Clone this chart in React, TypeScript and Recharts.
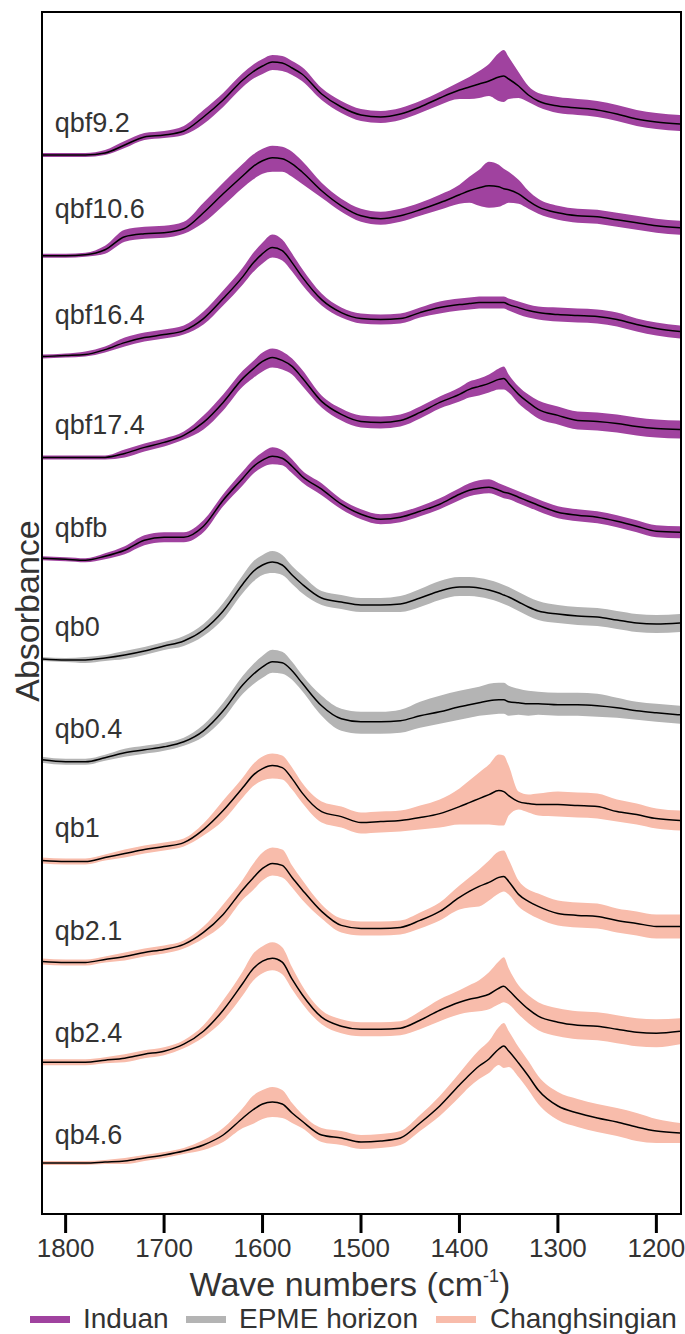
import { ComposedChart, Area, Line, XAxis, YAxis, ReferenceDot } from "recharts";

// wavenumber grid (cm-1), left edge of frame to right edge
const WAVENUMBERS = [
  1824, 1800, 1780, 1760, 1740, 1720, 1700, 1680, 1660, 1640,
  1620, 1610, 1600, 1590, 1580, 1570, 1560, 1540, 1520, 1500,
  1480, 1460, 1440, 1420, 1400, 1390, 1380, 1370, 1360, 1355,
  1350, 1340, 1330, 1320, 1300, 1280, 1260, 1240, 1220, 1200,
  1176,
];

const X_TICKS = [1800, 1700, 1600, 1500, 1400, 1300, 1200];

// absorbance (a.u.) above each sample's baseline: mean, spread above, spread below
const meanQbf92 = [0, 0, 0, 2, 10, 18, 20, 24, 38, 55, 75, 83, 89, 93, 92, 87, 81, 61, 48, 40, 38, 41, 48, 57, 65, 68, 71, 74, 78, 79, 76, 69, 60, 54, 49, 47, 45, 41, 36, 33, 31];
const upQbf92 = [2, 2, 2, 3, 4, 4, 4, 5, 7, 7, 7, 7, 7, 7, 7, 7, 7, 6, 6, 6, 6, 6, 6, 6, 8, 10, 13, 17, 24, 26, 22, 14, 9, 8, 9, 9, 9, 9, 9, 9, 9];
const lowQbf92 = [2, 2, 2, 2, 3, 3, 3, 4, 7, 7, 7, 7, 8, 8, 8, 7, 7, 6, 6, 6, 6, 6, 6, 7, 9, 12, 14, 15, 24, 26, 20, 12, 7, 6, 7, 7, 7, 7, 7, 7, 7];

const meanQbf106 = [0, 0, 1, 6, 19, 22, 23, 27, 43, 62, 80, 89, 95, 98, 97, 92, 84, 65, 50, 40, 37, 40, 46, 53, 61, 65, 68, 70, 69, 67, 66, 62, 55, 49, 43, 40, 39, 36, 33, 30, 28];
const upQbf106 = [2, 2, 2, 4, 7, 7, 7, 7, 10, 11, 12, 12, 12, 12, 12, 12, 11, 8, 7, 7, 7, 7, 7, 8, 10, 14, 18, 24, 22, 20, 18, 14, 10, 8, 7, 7, 7, 7, 7, 7, 7];
const lowQbf106 = [2, 2, 2, 4, 5, 5, 5, 5, 10, 12, 12, 13, 13, 14, 13, 13, 12, 7, 6, 6, 6, 6, 6, 7, 9, 12, 18, 22, 20, 16, 13, 10, 8, 7, 7, 7, 7, 7, 7, 7, 7];

const meanQbf164 = [0, 1, 2, 7, 14, 19, 22, 26, 38, 58, 80, 93, 103, 109, 106, 94, 80, 57, 44, 38, 37, 38, 44, 49, 52, 53, 54, 54, 54, 54, 52, 49, 46, 44, 42, 41, 40, 37, 32, 28, 25];
const upQbf164 = [2, 2, 3, 3, 5, 5, 5, 5, 7, 8, 9, 10, 11, 13, 11, 9, 8, 6, 5, 5, 5, 5, 5, 6, 6, 6, 6, 6, 6, 6, 6, 6, 6, 6, 7, 7, 7, 7, 6, 6, 6];
const lowQbf164 = [2, 2, 2, 3, 4, 4, 4, 4, 6, 7, 8, 9, 10, 10, 10, 9, 8, 6, 5, 5, 5, 5, 5, 6, 6, 6, 6, 6, 6, 6, 6, 7, 7, 7, 7, 7, 7, 7, 7, 7, 7];

const meanQbf174 = [0, 0, 0, 0, 4, 10, 15, 22, 35, 55, 79, 88, 96, 100, 97, 91, 80, 56, 43, 36, 35, 37, 45, 55, 63, 68, 71, 74, 78, 79, 74, 63, 55, 48, 42, 37, 36, 34, 31, 29, 28];
const upQbf174 = [2, 2, 2, 2, 4, 4, 4, 4, 7, 8, 8, 8, 9, 9, 9, 8, 8, 6, 6, 6, 6, 6, 6, 6, 7, 8, 8, 9, 11, 12, 9, 8, 8, 9, 9, 9, 9, 9, 9, 9, 9];
const lowQbf174 = [2, 2, 2, 2, 4, 4, 4, 4, 7, 8, 8, 9, 10, 10, 9, 8, 8, 6, 6, 6, 6, 6, 6, 6, 7, 8, 9, 9, 10, 11, 9, 9, 9, 9, 9, 9, 9, 9, 9, 9, 9];

const meanQbfb = [0, -1, -2, 2, 8, 18, 21, 21, 32, 58, 80, 91, 98, 102, 100, 92, 82, 69, 54, 44, 39, 41, 47, 54, 64, 68, 70, 71, 68, 66, 65, 61, 57, 53, 46, 43, 41, 37, 32, 27, 26];
const upQbfb = [2, 2, 2, 3, 4, 5, 5, 5, 6, 6, 7, 7, 8, 9, 8, 7, 6, 6, 5, 5, 5, 5, 5, 6, 6, 7, 8, 8, 7, 7, 6, 6, 6, 6, 6, 6, 6, 6, 6, 6, 6];
const lowQbfb = [2, 2, 2, 3, 4, 5, 5, 5, 6, 6, 7, 7, 7, 8, 7, 7, 6, 6, 5, 5, 5, 5, 5, 5, 6, 6, 6, 6, 6, 6, 6, 6, 6, 6, 6, 6, 6, 6, 6, 6, 6];

const meanQb0 = [0, -1, -1, 1, 4, 8, 13, 18, 29, 48, 75, 87, 94, 97, 94, 84, 75, 61, 57, 54, 54, 55, 61, 68, 72, 72, 71, 69, 66, 64, 62, 57, 52, 48, 45, 43, 42, 39, 36, 35, 36];
const upQb0 = [2, 2, 3, 3, 4, 4, 4, 5, 6, 8, 9, 10, 10, 11, 10, 9, 9, 7, 7, 7, 7, 8, 9, 10, 10, 10, 10, 10, 10, 10, 10, 10, 10, 10, 9, 9, 9, 9, 9, 9, 9];
const lowQb0 = [2, 2, 3, 3, 4, 4, 4, 5, 6, 8, 9, 10, 10, 11, 10, 9, 9, 7, 7, 7, 7, 8, 9, 9, 9, 9, 9, 9, 9, 9, 9, 9, 9, 9, 9, 9, 9, 9, 9, 9, 9];

const meanQb04 = [0, -2, -2, 2, 7, 10, 13, 18, 29, 49, 75, 85, 93, 98, 97, 89, 77, 54, 41, 38, 38, 39, 44, 48, 53, 55, 57, 59, 60, 60, 58, 57, 56, 56, 55, 55, 54, 52, 49, 47, 45];
const upQb04 = [3, 3, 3, 3, 4, 4, 4, 4, 6, 8, 9, 10, 11, 12, 11, 9, 8, 10, 10, 10, 10, 11, 14, 16, 16, 16, 16, 17, 17, 17, 16, 14, 13, 12, 12, 12, 12, 10, 9, 9, 9];
const lowQb04 = [3, 3, 3, 3, 4, 4, 4, 4, 6, 8, 9, 10, 11, 11, 11, 9, 8, 10, 12, 12, 12, 12, 12, 12, 13, 13, 13, 14, 14, 14, 14, 12, 12, 11, 11, 11, 11, 10, 9, 9, 9];

const meanQb1 = [0, -1, -1, 3, 7, 11, 14, 18, 31, 50, 73, 85, 92, 95, 93, 82, 68, 49, 44, 38, 39, 40, 43, 47, 54, 58, 62, 66, 70, 69, 65, 59, 57, 56, 56, 55, 54, 49, 46, 42, 40];
const upQb1 = [3, 3, 3, 3, 4, 4, 4, 4, 6, 10, 10, 11, 12, 12, 12, 11, 10, 10, 10, 10, 10, 10, 12, 14, 18, 22, 26, 30, 36, 36, 30, 10, 9, 11, 13, 13, 13, 12, 11, 10, 10];
const lowQb1 = [3, 3, 3, 3, 4, 4, 4, 4, 6, 10, 10, 11, 12, 13, 12, 11, 10, 11, 11, 11, 11, 11, 12, 14, 18, 22, 26, 30, 35, 34, 20, 8, 9, 11, 12, 12, 12, 10, 10, 10, 10];

const meanQb21 = [0, -1, -1, 2, 5, 9, 12, 17, 29, 47, 72, 83, 93, 98, 96, 84, 72, 50, 36, 33, 33, 34, 41, 50, 64, 70, 75, 79, 84, 85, 80, 67, 60, 55, 48, 46, 45, 41, 38, 35, 35];
const upQb21 = [3, 3, 3, 3, 4, 4, 4, 4, 6, 10, 10, 14, 16, 16, 16, 12, 10, 7, 7, 7, 7, 7, 8, 9, 12, 14, 17, 22, 26, 26, 22, 14, 12, 13, 13, 13, 13, 12, 12, 12, 12];
const lowQb21 = [3, 3, 3, 3, 4, 4, 4, 4, 6, 10, 10, 12, 12, 12, 12, 10, 10, 7, 7, 7, 7, 7, 8, 9, 12, 16, 20, 18, 16, 15, 13, 12, 12, 12, 12, 12, 12, 12, 12, 12, 12];

const meanQb24 = [0, 0, 0, 2, 4, 8, 11, 18, 31, 52, 79, 93, 101, 104, 100, 83, 68, 45, 36, 33, 33, 34, 42, 52, 60, 63, 65, 68, 74, 76, 72, 62, 53, 46, 40, 37, 36, 33, 30, 29, 31];
const upQb24 = [3, 3, 3, 3, 4, 4, 4, 4, 6, 10, 12, 15, 15, 16, 15, 12, 9, 7, 7, 7, 7, 7, 9, 11, 12, 14, 17, 22, 27, 29, 22, 15, 14, 14, 14, 14, 14, 14, 14, 14, 13];
const lowQb24 = [3, 3, 3, 3, 4, 4, 4, 4, 6, 10, 12, 12, 12, 12, 12, 10, 9, 7, 7, 7, 7, 7, 9, 11, 12, 13, 14, 15, 16, 16, 14, 14, 14, 14, 14, 14, 14, 14, 14, 14, 13];

const meanQb46 = [0, 0, 0, 1, 2, 5, 8, 12, 18, 28, 45, 53, 59, 61, 59, 50, 42, 28, 25, 21, 22, 25, 40, 57, 78, 88, 97, 104, 114, 117, 112, 100, 87, 73, 57, 50, 45, 41, 36, 32, 30];
const upQb46 = [2, 2, 2, 2, 3, 3, 3, 3, 5, 7, 10, 14, 14, 15, 14, 10, 7, 7, 7, 7, 7, 7, 8, 10, 12, 14, 16, 18, 22, 23, 20, 16, 15, 14, 14, 14, 14, 14, 14, 12, 10];
const lowQb46 = [2, 2, 2, 2, 3, 3, 3, 3, 5, 7, 10, 14, 15, 15, 14, 10, 7, 7, 7, 7, 7, 7, 8, 10, 12, 12, 13, 14, 16, 22, 16, 14, 14, 14, 14, 14, 14, 14, 14, 12, 10];

const SAMPLES = ["qbf9.2", "qbf10.6", "qbf16.4", "qbf17.4", "qbfb", "qb0", "qb0.4", "qb1", "qb2.1", "qb2.4", "qb4.6"];
const STAGE = ["Induan", "Induan", "Induan", "Induan", "Induan", "EPME horizon", "EPME horizon", "Changhsingian", "Changhsingian", "Changhsingian", "Changhsingian"];
const MEANS = [meanQbf92, meanQbf106, meanQbf164, meanQbf174, meanQbfb, meanQb0, meanQb04, meanQb1, meanQb21, meanQb24, meanQb46];
const UPS = [upQbf92, upQbf106, upQbf164, upQbf174, upQbfb, upQb0, upQb04, upQb1, upQb21, upQb24, upQb46];
const LOWS = [lowQbf92, lowQbf106, lowQbf164, lowQbf174, lowQbfb, lowQb0, lowQb04, lowQb1, lowQb21, lowQb24, lowQb46];

const LEGEND = ["Induan", "EPME horizon", "Changhsingian"];

const COLORS: Record<string, string> = {
  Induan: "#a0429f",
  "EPME horizon": "#b4b4b4",
  Changhsingian: "#f8bcab",
};

const STEP = 100.8; // vertical offset between stacked spectra
const LABEL_LIFT = [23, 38, 33, 23, 21, 23, 22, 24, 21, 20, 19];
const FONT = "'Liberation Sans', Arial, Helvetica, sans-serif";

const n = SAMPLES.length;
const offsetOf = (i: number) => (n - 1 - i) * STEP;

const data = WAVENUMBERS.map((w, j) => {
  const row: any = { w };
  SAMPLES.forEach((_, i) => {
    const off = offsetOf(i);
    const m = MEANS[i][j];
    row["m" + i] = off + m;
    row["b" + i] = [off + m - LOWS[i][j], off + m + UPS[i][j]];
  });
  return row;
});

const legendPos = [
  { sw: 30, tx: 83 },
  { sw: 186, tx: 239 },
  { sw: 436, tx: 490 },
];

export default function App() {
  return (
    <div
      style={{
        position: "absolute",
        left: 0,
        top: 0,
        width: 685,
        height: 1334,
        background: "#fff",
        overflow: "hidden",
        fontFamily: FONT,
        color: "#333",
      }}
    >
      <ComposedChart
        width={685}
        height={1334}
        data={data}
        margin={{ top: 12, right: 5, bottom: 80, left: 42 }}
      >
        <XAxis
          dataKey="w"
          type="number"
          domain={[1176, 1824]}
          reversed
          ticks={X_TICKS}
          height={40}
          axisLine={false}
          tickLine={{ stroke: "#000", strokeWidth: 3 }}
          tickSize={19}
          tickMargin={6}
          tick={{ fill: "#333", fontSize: 26, fontFamily: FONT }}
          allowDataOverflow
        />
        <YAxis type="number" domain={[-51, 1151]} hide allowDataOverflow />
        {SAMPLES.map((s, i) => (
          <Area
            key={"band" + s}
            dataKey={"b" + i}
            type="monotone"
            fill={COLORS[STAGE[i]]}
            fillOpacity={1}
            stroke="none"
            isAnimationActive={false}
          />
        ))}
        {SAMPLES.map((s, i) => (
          <Line
            key={"mean" + s}
            dataKey={"m" + i}
            type="monotone"
            stroke="#000"
            strokeWidth={1.5}
            dot={false}
            isAnimationActive={false}
          />
        ))}
        {SAMPLES.map((s, i) => (
          <ReferenceDot
            key={"lab" + s}
            x={1811}
            y={offsetOf(i) + LABEL_LIFT[i]}
            r={0}
            shape={(p: any) => (
              <text x={p.cx} y={p.cy} fontSize={27} fontFamily={FONT} fill="#333">
                {s}
              </text>
            )}
          />
        ))}
      </ComposedChart>

      {/* plot frame */}
      <div
        style={{
          position: "absolute",
          left: 41,
          top: 11,
          width: 641,
          height: 1204,
          border: "2px solid #000",
          boxSizing: "border-box",
          pointerEvents: "none",
        }}
      />

      <div
        style={{
          position: "absolute",
          left: -123,
          top: 594,
          width: 300,
          height: 34,
          lineHeight: "34px",
          fontSize: 34,
          textAlign: "center",
          transform: "rotate(-90deg)",
        }}
      >
        Absorbance
      </div>

      <div
        style={{
          position: "absolute",
          left: 0,
          width: 700,
          top: 1268,
          height: 32,
          fontSize: 34,
          lineHeight: "32px",
          textAlign: "center",
          whiteSpace: "nowrap",
        }}
      >
        Wave numbers (cm
        <span style={{ fontSize: 18, lineHeight: 0, position: "relative", top: -14 }}>-1</span>)
      </div>

      {LEGEND.map((name, k) => (
        <div key={name}>
          <div
            style={{
              position: "absolute",
              left: legendPos[k].sw,
              top: 1316,
              width: 40,
              height: 7,
              background: COLORS[name],
            }}
          />
          <div
            style={{
              position: "absolute",
              left: legendPos[k].tx,
              top: 1305,
              height: 28,
              fontSize: 28,
              lineHeight: "28px",
              whiteSpace: "nowrap",
            }}
          >
            {name}
          </div>
        </div>
      ))}
    </div>
  );
}
